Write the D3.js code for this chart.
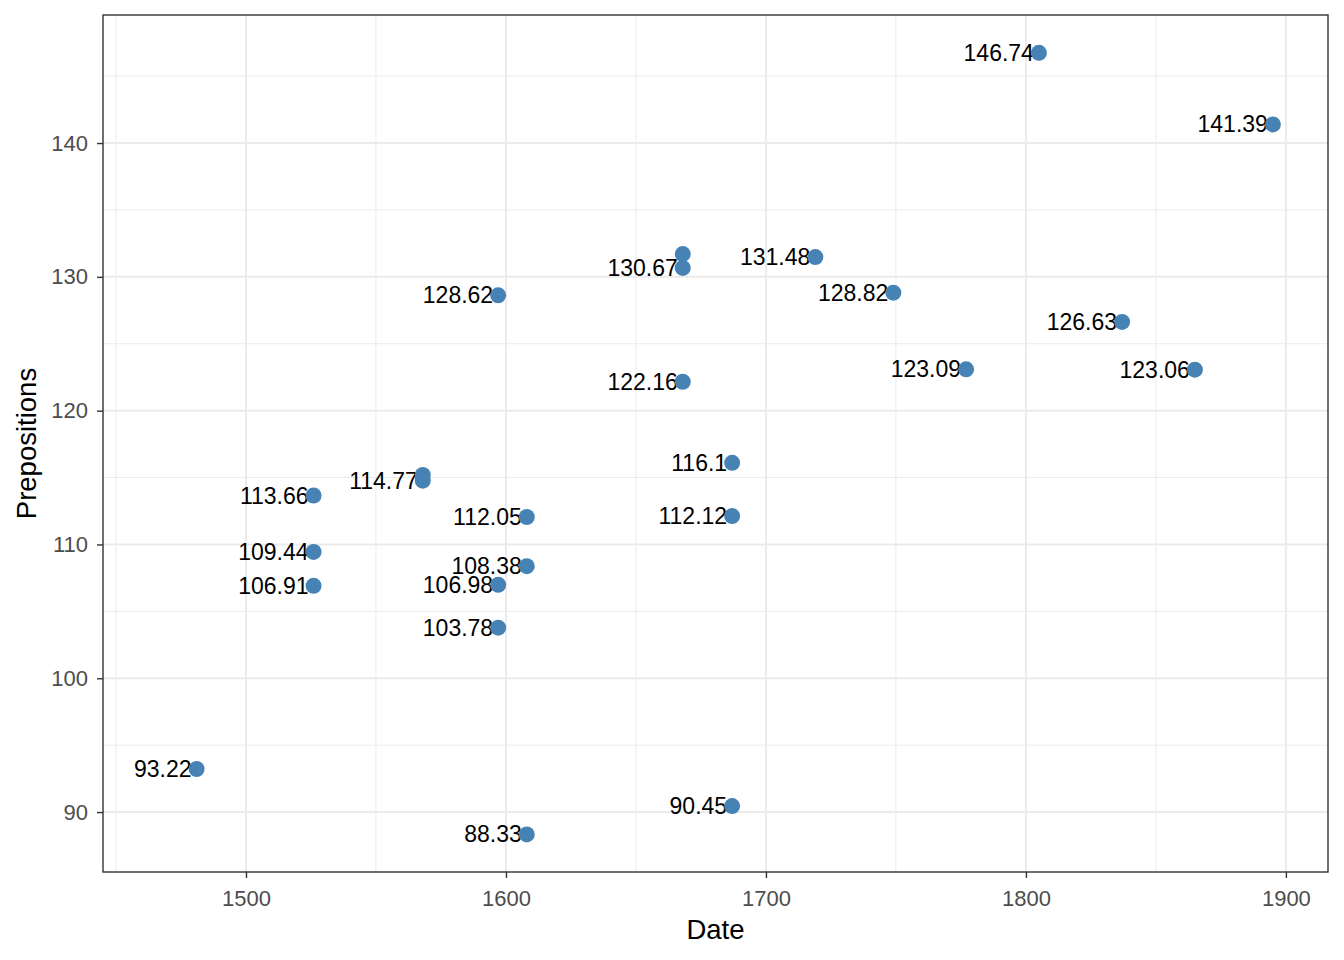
<!DOCTYPE html>
<html lang="en">
<head>
    <meta charset="UTF-8">
    <script src="https://d3js.org/d3.v7.min.js"></script>
    <style>
        body { margin: 0; background: #fff; }
        text { font-family: "Liberation Sans", Arial, sans-serif; }
        .tick-label { font-size: 22px; fill: #4d4d4d; }
        .axis-title { font-size: 27.5px; fill: #000; }
        .point-label { font-size: 23px; fill: #000; }
    </style>
    <title>Prepositions by Date</title>
</head>
<body>
    <script>
        // Data (last two labels are hidden by overlap)
        const dates = [1805, 1895, 1719, 1749, 1837, 1777, 1865, 1668, 1597, 1668,
                       1687, 1687, 1687, 1608, 1608, 1608, 1597, 1597,
                       1526, 1526, 1526, 1568, 1481, 1668, 1568];
        const values = [146.74, 141.39, 131.48, 128.82, 126.63, 123.09, 123.06, 130.67, 128.62, 122.16,
                        116.1, 112.12, 90.45, 112.05, 108.38, 88.33, 106.98, 103.78,
                        113.66, 109.44, 106.91, 114.77, 93.22, 131.7, 115.19];
        const xTicks = [1500, 1600, 1700, 1800, 1900];
        const yTicks = [90, 100, 110, 120, 130, 140];
        const xMinor = [1450, 1550, 1650, 1750, 1850];
        const yMinor = [95, 105, 115, 125, 135, 145];

        const width = 1344, height = 960;
        const panel = { left: 103, right: 1328, top: 15, bottom: 872 };

        const svg = d3.select("body").append("svg")
            .attr("width", width)
            .attr("height", height);

        const x = d3.scaleLinear().domain([1445, 1916.2]).range([panel.left, panel.right]);
        const y = d3.scaleLinear().domain([85.52, 149.57]).range([panel.bottom, panel.top]);

        // grid
        const grid = svg.append("g");
        grid.selectAll(".xminor").data(xMinor).enter().append("line")
            .attr("x1", d => x(d)).attr("x2", d => x(d))
            .attr("y1", panel.top).attr("y2", panel.bottom)
            .attr("stroke", "#ebebeb").attr("stroke-width", 1);
        grid.selectAll(".yminor").data(yMinor).enter().append("line")
            .attr("y1", d => y(d)).attr("y2", d => y(d))
            .attr("x1", panel.left).attr("x2", panel.right)
            .attr("stroke", "#ebebeb").attr("stroke-width", 1);
        grid.selectAll(".xmajor").data(xTicks).enter().append("line")
            .attr("x1", d => x(d)).attr("x2", d => x(d))
            .attr("y1", panel.top).attr("y2", panel.bottom)
            .attr("stroke", "#ebebeb").attr("stroke-width", 2);
        grid.selectAll(".ymajor").data(yTicks).enter().append("line")
            .attr("y1", d => y(d)).attr("y2", d => y(d))
            .attr("x1", panel.left).attr("x2", panel.right)
            .attr("stroke", "#ebebeb").attr("stroke-width", 2);

        // labels, drawn in order, skipping any that overlap an earlier one
        const data = dates.map((d, i) => ({ date: d, value: values[i] }));
        const placed = [];
        const fs = 23;
        const labelG = svg.append("g");
        data.forEach(d => {
            const t = labelG.append("text")
                .attr("class", "point-label")
                .attr("x", x(d.date) - 5)
                .attr("y", y(d.value))
                .attr("dy", "0.35em")
                .attr("text-anchor", "end")
                .text(d.value);
            const bb = t.node().getBBox();
            const box = { x0: bb.x, x1: bb.x + bb.width,
                          y0: y(d.value) - 0.36 * fs, y1: y(d.value) + 0.36 * fs };
            const hit = placed.some(p => box.x0 < p.x1 && box.x1 > p.x0 && box.y0 < p.y1 && box.y1 > p.y0);
            if (hit) t.remove(); else placed.push(box);
        });

        // points
        svg.append("g").selectAll("circle").data(data).enter().append("circle")
            .attr("cx", d => x(d.date))
            .attr("cy", d => y(d.value))
            .attr("r", 8)
            .attr("fill", "steelblue");

        // panel border
        svg.append("rect")
            .attr("x", panel.left).attr("y", panel.top)
            .attr("width", panel.right - panel.left)
            .attr("height", panel.bottom - panel.top)
            .attr("fill", "none").attr("stroke", "#333333").attr("stroke-width", 1.4);

        // axes
        const xAxis = svg.append("g")
            .attr("transform", `translate(0,${panel.bottom})`)
            .call(d3.axisBottom(x).tickValues(xTicks).tickSize(6).tickPadding(12).tickFormat(d3.format("d")));
        const yAxis = svg.append("g")
            .attr("transform", `translate(${panel.left},0)`)
            .call(d3.axisLeft(y).tickValues(yTicks).tickSize(6).tickPadding(9).tickFormat(d3.format("d")));
        [xAxis, yAxis].forEach(a => {
            a.select(".domain").remove();
            a.selectAll(".tick line").attr("stroke", "#333333").attr("stroke-width", 1.4);
            a.selectAll(".tick text").attr("class", "tick-label");
            a.attr("font-size", null).attr("font-family", null);
        });

        // axis titles
        svg.append("text")
            .attr("class", "axis-title")
            .attr("x", (panel.left + panel.right) / 2)
            .attr("y", 939)
            .attr("text-anchor", "middle")
            .text("Date");
        svg.append("text")
            .attr("class", "axis-title")
            .attr("transform", `translate(36,${(panel.top + panel.bottom) / 2}) rotate(-90)`)
            .attr("text-anchor", "middle")
            .text("Prepositions");
    </script>
</body>
</html>
